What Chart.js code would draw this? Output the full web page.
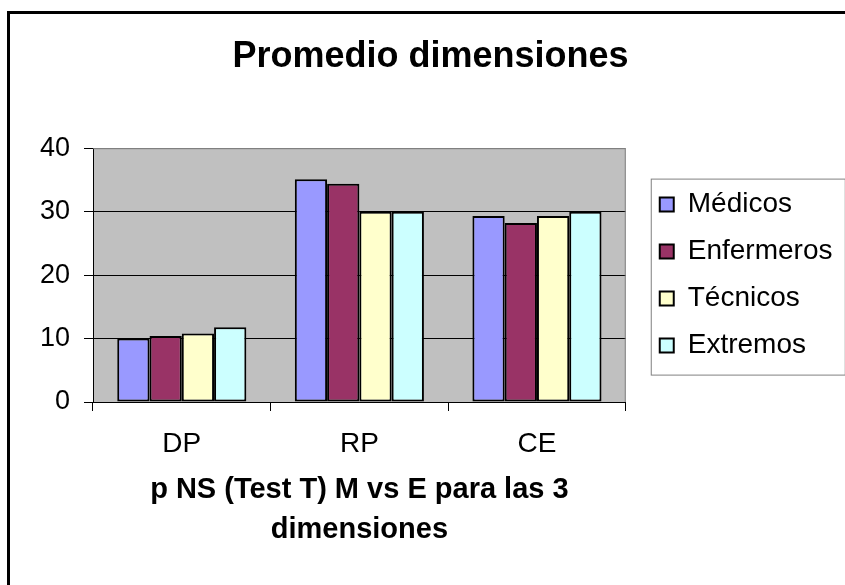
<!DOCTYPE html>
<html>
<head>
<meta charset="utf-8">
<script src="https://cdn.jsdelivr.net/npm/chart.js@4.4.0/dist/chart.umd.min.js"></script>
<style>
    body { margin: 0; background: #fff; overflow: hidden; }
    .frame {
        position: absolute; left: 7px; top: 11px; width: 900px; height: 700px;
        border-left: 3px solid #000; border-top: 3px solid #000;
    }
    .chart-container { position: absolute; left: 0; top: 0; width: 845px; height: 585px; }
</style>
</head>
<body>
<div class="frame"></div>
<div class="chart-container">
    <canvas id="dimChart" width="845" height="585"></canvas>
</div>
<script>
const categories = ['DP', 'RP', 'CE'];
const medicos = [10.0, 35.1, 29.3];
const enfermeros = [10.4, 34.4, 28.2];
const tecnicos = [10.8, 30.0, 29.3];
const extremos = [11.8, 30.0, 30.0];
const yTicks = [0, 10, 20, 30, 40];

const FONT = "'Liberation Sans', Arial, sans-serif";
const PAD_LEFT = 40;

// grey plot background + grey right/top border, like the Excel plot area
const plotArea = {
    id: 'plotArea',
    beforeDraw(chart) {
        const { ctx, chartArea: a } = chart;
        ctx.save();
        ctx.fillStyle = '#c0c0c0';
        ctx.fillRect(a.left, a.top, a.right - a.left, a.bottom - a.top);
        ctx.restore();
    },
    afterDatasetsDraw(chart) {
        const { ctx, chartArea: a } = chart;
        ctx.save();
        ctx.strokeStyle = '#808080';
        ctx.lineWidth = 1;
        ctx.beginPath();
        ctx.moveTo(a.left, a.top + 0.5);
        ctx.lineTo(a.right - 0.5, a.top + 0.5);
        ctx.lineTo(a.right - 0.5, a.bottom);
        ctx.stroke();
        ctx.restore();
    }
};

// push the legend a bit away from the plot, then frame it
const legendBox = {
    id: 'legendBox',
    afterLayout(chart) {
        const lg = chart.legend;
        if (!lg) return;
        lg.left += 15;
        lg.right += 15;
    },
    afterDraw(chart) {
        const hits = chart.legend && chart.legend.legendHitBoxes;
        if (!hits || !hits.length) return;
        const { ctx } = chart;
        const first = hits[0];
        const last = hits[hits.length - 1];
        const x0 = first.left - 9;
        const y0 = first.top - 12;
        const y1 = last.top + last.height + 15;
        ctx.save();
        ctx.strokeStyle = '#808080';
        ctx.lineWidth = 1;
        ctx.strokeRect(x0 + 0.5, y0 + 0.5, 194, y1 - y0);
        ctx.restore();
    }
};

const ctx = document.getElementById('dimChart').getContext('2d');
new Chart(ctx, {
    type: 'bar',
    data: {
        labels: categories,
        datasets: [
            { label: 'Médicos', data: medicos, backgroundColor: '#9999ff' },
            { label: 'Enfermeros', data: enfermeros, backgroundColor: '#993366' },
            { label: 'Técnicos', data: tecnicos, backgroundColor: '#ffffcc' },
            { label: 'Extremos', data: extremos, backgroundColor: '#ccffff' }
        ].map(d => Object.assign(d, {
            borderColor: '#000',
            borderWidth: 2,
            borderSkipped: false,
            barPercentage: 1,
            categoryPercentage: 0.727
        }))
    },
    options: {
        responsive: false,
        animation: false,
        layout: { padding: { left: PAD_LEFT, right: 24, top: 0, bottom: 0 } },
        plugins: {
            title: {
                display: true,
                text: 'Promedio dimensiones',
                color: '#000',
                font: { family: FONT, size: 36, weight: 'bold', lineHeight: 1.2 },
                padding: { top: 35, bottom: 70 }
            },
            legend: {
                position: 'right',
                fullSize: false,
                labels: {
                    color: '#000',
                    font: { family: FONT, size: 28 },
                    boxWidth: 14,
                    boxHeight: 14,
                    padding: 19
                }
            },
            tooltip: { enabled: false }
        },
        scales: {
            x: {
                grid: {
                    drawOnChartArea: false,
                    drawTicks: true,
                    tickLength: 9,
                    color: '#000',
                    offset: true
                },
                border: { display: true, color: '#000', width: 1 },
                ticks: {
                    color: '#000',
                    font: { family: FONT, size: 28, lineHeight: 1.2 },
                    padding: 16,
                    maxRotation: 0
                },
                title: {
                    display: true,
                    text: ['p NS (Test T) M vs E para las 3', 'dimensiones'],
                    color: '#000',
                    font: { family: FONT, size: 29, weight: 'bold', lineHeight: 40 / 29 },
                    padding: { top: 0, bottom: 35 }
                },
                afterFit(scale) { scale.height = 585 - 402; }
            },
            y: {
                min: 0,
                max: 40,
                afterBuildTicks(scale) { scale.ticks = yTicks.map(v => ({ value: v })); },
                grid: {
                    color: c => (c.tick && c.tick.value === 40 ? '#808080' : '#000'),
                    tickColor: '#000',
                    tickLength: 9,
                    lineWidth: 1
                },
                border: { display: true, color: '#000', width: 1 },
                ticks: {
                    color: '#000',
                    font: { family: FONT, size: 27 },
                    padding: 14
                },
                afterFit(scale) { scale.width = 93 - PAD_LEFT; }
            }
        }
    },
    plugins: [plotArea, legendBox]
});
</script>
</body>
</html>
